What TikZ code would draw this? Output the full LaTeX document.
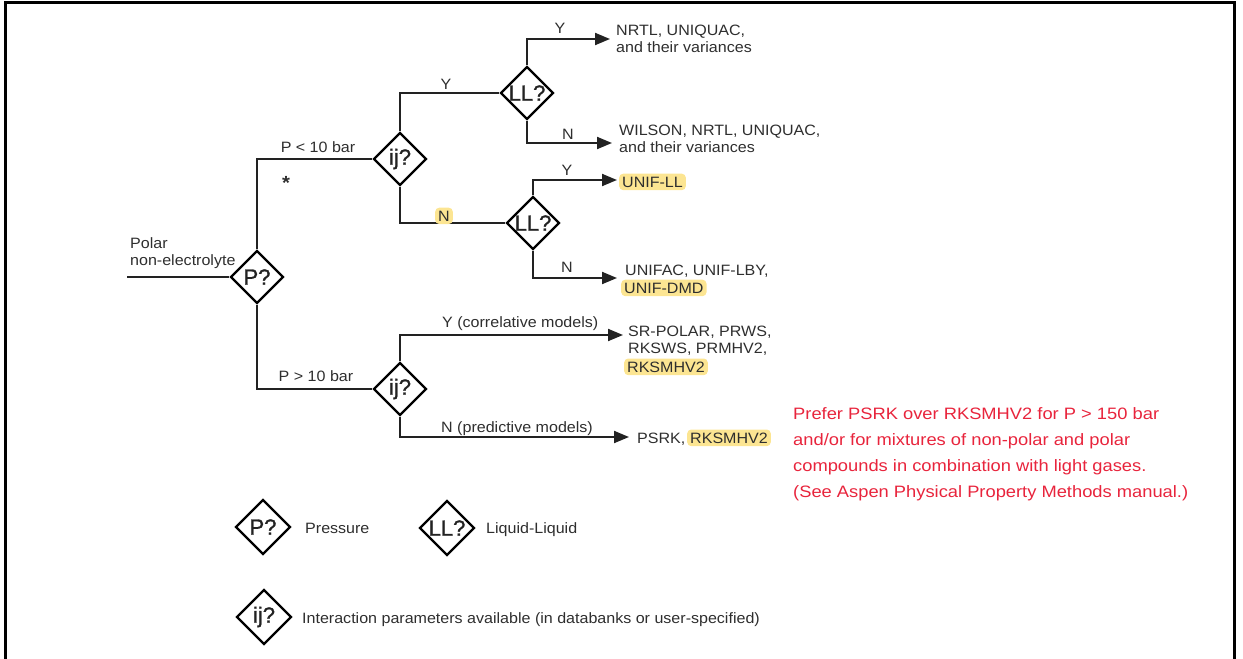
\documentclass[tikz,border=0pt]{standalone}
\usepackage{fontspec}
\setmainfont{Liberation Sans}[FakeStretch=1.07]
\newfontfamily\dfont{Liberation Sans}[FakeBold=1.2]
\newfontfamily\redfont{Liberation Sans}[FakeStretch=1.11]
\usetikzlibrary{shapes.geometric,arrows.meta}
\definecolor{txt}{HTML}{2E2E2E}
\definecolor{lnc}{HTML}{222222}
\definecolor{hly}{HTML}{FCE592}
\definecolor{redtxt}{HTML}{E8243C}
\tikzset{
 dia/.style={draw=black,line width=2.4pt,shape=diamond,inner sep=0pt,minimum width=53pt,minimum height=53pt,font=\dfont\fontsize{22}{22}\selectfont,text=lnc},
 ldia/.style={dia,minimum width=55pt,minimum height=55pt},
 conn/.style={draw=lnc,line width=2pt},
 arr/.style={conn,-{Triangle[length=15pt,width=12pt]}},
 lbl/.style={inner sep=0pt,text=txt,font=\fontsize{15}{17}\selectfont,anchor=base},
 lblw/.style={lbl,anchor=base west},
 hl/.style={fill=hly,rounded corners=4pt,inner xsep=3pt,inner ysep=3pt,text=txt,font=\fontsize{15}{17}\selectfont,anchor=base west},
 note/.style={inner sep=0pt,text=redtxt,font=\redfont\fontsize{16.5}{20}\selectfont,anchor=base west},
}
\begin{document}
\begin{tikzpicture}[x=1pt,y=-1pt]
\useasboundingbox (0,0) rectangle (1243,659);
\draw[line width=3pt] (5.5,665) -- (5.5,2.5) -- (1234.5,2.5) -- (1234.5,665);

% decision nodes
\node[dia] (P) at (257,277) {P?};
\node[dia] (ij1) at (400,159) {ij?};
\node[dia] (LL1) at (527,93) {LL?};
\node[dia] (LL2) at (533,223) {LL?};
\node[dia] (ij2) at (400,389) {ij?};

% free ends
\coordinate (in) at (127,277);
\coordinate (a1) at (610,39);
\coordinate (a2) at (612,143);
\coordinate (a3) at (617,180);
\coordinate (a4) at (617,278);
\coordinate (a5) at (623,335);
\coordinate (a6) at (629,437);

% connectors
\draw[conn] (in) -- (P.west);
\draw[conn] (P.north) |- (ij1.west);
\draw[conn] (P.south) |- (ij2.west);
\draw[conn] (ij1.north) |- (LL1.west);
\draw[conn] (ij1.south) |- (LL2.west);
\draw[arr] (LL1.north) |- (a1);
\draw[arr] (LL1.south) |- (a2);
\draw[arr] (LL2.north) |- (a3);
\draw[arr] (LL2.south) |- (a4);
\draw[arr] (ij2.north) |- (a5);
\draw[arr] (ij2.south) |- (a6);

% input label
\node[lblw] (pol1) at (130,248) {Polar};
\node[lblw] (pol2) at (130,265) {non-electrolyte};

% branch labels
\node[lbl] (lp1) at (318,152) {P < 10 bar};
\node[lbl,font=\bfseries\fontsize{19}{19}\selectfont] (ast) at (286,189) {*};
\node[lbl] (lp2) at (316,381) {P > 10 bar};
\node[lbl] (ly1) at (446,89) {Y};
\node[hl,anchor=base] (ln1) at (444,221) {N};
\node[lbl] (ly2) at (560,33) {Y};
\node[lbl] (ln2) at (568,139) {N};
\node[lbl] (ly3) at (567,175) {Y};
\node[lbl] (ln3) at (567,272) {N};
\node[lblw] (ly4) at (442,327) {Y (correlative models)};
\node[lblw] (ln4) at (441,432) {N (predictive models)};

% outputs
\node[lblw] (o1a) at (616,35) {NRTL, UNIQUAC,};
\node[lblw] (o1b) at (616,52) {and their variances};
\node[lblw] (o2a) at (619,135) {WILSON, NRTL, UNIQUAC,};
\node[lblw] (o2b) at (619,152) {and their variances};
\node[hl] (o3) at (619,187) {UNIF-LL};
\node[lblw] (o4a) at (625,275) {UNIFAC, UNIF-LBY,};
\node[hl] (o4b) at (621,293) {UNIF-DMD};
\node[lblw] (o5a) at (628,336) {SR-POLAR, PRWS,};
\node[lblw] (o5b) at (628,353) {RKSWS, PRMHV2,};
\node[hl] (o5c) at (624,372) {RKSMHV2};
\node[lblw] (o6a) at (637,443) {PSRK,};
\node[hl] (o6b) at (687,443) {RKSMHV2};

% note
\node[note] (n1) at (793,419) {Prefer PSRK over RKSMHV2 for P > 150 bar};
\node[note] (n2) at (793,445) {and/or for mixtures of non-polar and polar};
\node[note] (n3) at (793,471) {compounds in combination with light gases.};
\node[note] (n4) at (793,497) {(See Aspen Physical Property Methods manual.)};

% legend
\node[ldia] (kP) at (263,527) {P?};
\node[lblw] (kPt) at (305,533) {Pressure};
\node[ldia] (kLL) at (447,528) {LL?};
\node[lblw] (kLLt) at (486,533) {Liquid-Liquid};
\node[ldia] (kij) at (264,617) {ij?};
\node[lblw] (kijt) at (302,623) {Interaction parameters available (in databanks or user-specified)};
\end{tikzpicture}
\end{document}
